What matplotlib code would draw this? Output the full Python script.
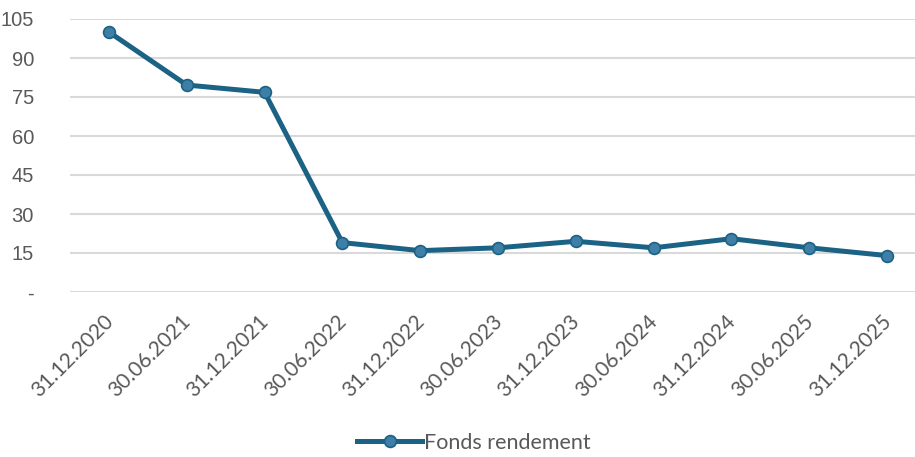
import matplotlib.pyplot as plt
import matplotlib.transforms as mtransforms
from matplotlib.ticker import FixedLocator, FuncFormatter

# data
dates = ['31.12.2020', '30.06.2021', '31.12.2021', '30.06.2022', '31.12.2022',
         '30.06.2023', '31.12.2023', '30.06.2024', '31.12.2024', '30.06.2025',
         '31.12.2025']
fonds_rendement = [100.0, 79.6, 76.8, 19.0, 15.9, 17.0, 19.5, 17.0, 20.5, 17.0, 14.0]
y_ticks = [0, 15, 30, 45, 60, 75, 90, 105]

line_col = '#1B6284'
marker_fill = '#3F7EA6'
text_col = '#595959'

fig = plt.figure(figsize=(9.15, 4.57), dpi=100)
# plot area runs slightly past the right edge, as in the cropped original
ax = fig.add_axes([70 / 915, 1 - 292 / 457, 856 / 915, 273 / 457])

x = list(range(len(dates)))
ax.plot(x, fonds_rendement, color=line_col, linewidth=3.6, marker='o',
        markersize=8.5, markerfacecolor=marker_fill, markeredgecolor=line_col,
        markeredgewidth=1.2, label='Fonds rendement', zorder=5)

ax.set_xlim(-0.5, len(dates) - 0.5)
ax.set_ylim(0, 105)
ax.yaxis.set_major_locator(FixedLocator(y_ticks))
ax.yaxis.set_major_formatter(FuncFormatter(lambda v, p: '-' if v == 0 else f'{v:.0f}'))
ax.grid(axis='y', color='#D9D9D9', linewidth=1.5)
ax.set_axisbelow(True)

ax.set_xticks(x)
ax.set_xticklabels(dates, rotation=45, ha='right', rotation_mode='anchor',
                   fontsize=15, color=text_col, family='Lato')
ax.tick_params(axis='x', length=0, pad=14)
ax.tick_params(axis='y', length=0, pad=26, labelsize=14.5, labelcolor=text_col)
for lab in ax.get_yticklabels():
    lab.set_family('Liberation Sans')

# nudge the date labels a little to the left
shift = mtransforms.ScaledTranslation(-6 / 100, 0, fig.dpi_scale_trans)
for lab in ax.get_xticklabels():
    lab.set_transform(lab.get_transform() + shift)

for s in ax.spines.values():
    s.set_visible(False)

fig.legend(loc='center', bbox_to_anchor=(474 / 915, 1 - 443 / 457), frameon=False,
           prop={'family': 'Lato', 'size': 15.5}, labelcolor=text_col,
           handlelength=3.0, handletextpad=0.1)

fig.savefig('out.png', dpi=100)
